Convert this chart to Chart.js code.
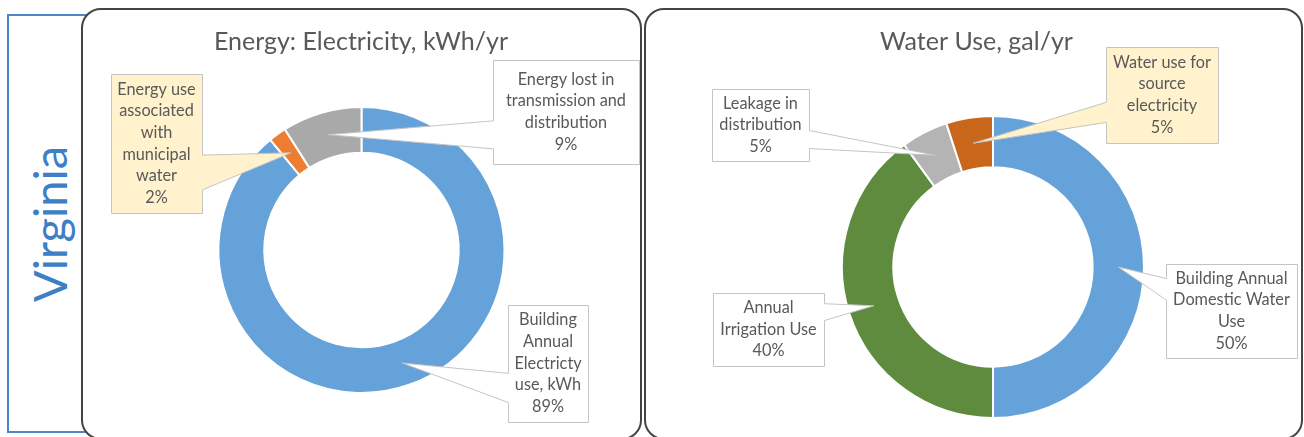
<!DOCTYPE html>
<html>
<head>
<meta charset="utf-8">
<script src="https://cdn.jsdelivr.net/npm/chart.js@4.4.0/dist/chart.umd.min.js"></script>
<style>
  body { margin: 0; width: 1304px; height: 437px; overflow: hidden; background: #fff; position: relative; font-family: Lato, "Open Sans", sans-serif; }
  #state { position: absolute; left: 7px; top: 14px; width: 110px; height: 419px; border: 2px solid #4a86c8; box-sizing: border-box; }
  #stateLabel { position: absolute; left: -51px; top: 200px; width: 200px; height: 48px; line-height: 48px; font-size: 47px; color: #3d80c6; text-align: center; transform: rotate(-90deg); }
  .panel { position: absolute; top: 8px; height: 432px; border: 2px solid #444; border-radius: 20px; background: #fff; box-sizing: border-box; }
  #p1 { left: 81px; width: 561px; }
  #p2 { left: 644px; width: 659px; }
  canvas { position: absolute; }
  #elec { left: 82px; top: 8px; }
  #water { left: 645px; top: 8px; }
</style>
</head>
<body>
<div id="state"></div>
<div id="stateLabel">Virginia</div>
<div class="panel" id="p1"></div>
<div class="panel" id="p2"></div>
<canvas id="elec" width="558" height="429"></canvas>
<canvas id="water" width="657" height="429"></canvas>

<script>
/* ───────── Data ───────── */
const elecTitle  = 'Energy: Electricity, kWh/yr';
const elecLabels = ['Building Annual Electricty use, kWh', 'Energy use associated with municipal water', 'Energy lost in transmission and distribution'];
const elecLines  = [['Building', 'Annual', 'Electricty', 'use, kWh'], ['Energy use', 'associated', 'with', 'municipal', 'water'], ['Energy lost in', 'transmission and', 'distribution']];
const elecValues = [89, 2, 9];
const elecColors = ['#65a2d9', '#ed7d31', '#a9a9a9'];

const waterTitle  = 'Water Use, gal/yr';
const waterLabels = ['Building Annual Domestic Water Use', 'Annual Irrigation Use', 'Leakage in distribution', 'Water use for source electricity'];
const waterLines  = [['Building Annual', 'Domestic Water', 'Use'], ['Annual', 'Irrigation Use'], ['Leakage in', 'distribution'], ['Water use for', 'source', 'electricity']];
const waterValues = [50, 40, 5, 5];
const waterColors = ['#65a2d9', '#5e8b3e', '#b4b4b4', '#c8661c'];

/* ───────── Callout layout (canvas coords) ───────── */
const elecBoxes = [
  { x: 426, y: 297, w: 80,  h: 117, side: 'left',  base: [0.58, 0.83], fill: '#fff' },
  { x: 29,  y: 66,  w: 91,  h: 139, side: 'right', base: [0.58, 0.83], fill: '#fff2cc' },
  { x: 411, y: 52,  w: 146, h: 104, side: 'left',  base: [0.58, 0.85], fill: '#fff' }
];
const waterBoxes = [
  { x: 521, y: 256, w: 131, h: 94, side: 'left',  base: [0.15, 0.38], fill: '#fff' },
  { x: 68,  y: 285, w: 111, h: 73, side: 'right', base: [0.14, 0.37], fill: '#fff' },
  { x: 67,  y: 81,  w: 97,  h: 72, side: 'right', base: [0.57, 0.82], fill: '#fff' },
  { x: 461, y: 39,  w: 112, h: 96, side: 'left',  base: [0.57, 0.78], fill: '#fff2cc' }
];

const FONT = 'Lato, "Open Sans", sans-serif';
const TEXT = '#595959';

/* ───────── Callout plugin ───────── */
const calloutPlugin = {
  id: 'callouts',
  afterDatasetsDraw(chart, args, opts) {
    const ctx = chart.ctx;
    const arcs = chart.getDatasetMeta(0).data;
    const vals = chart.data.datasets[0].data;
    const total = vals.reduce((s, v) => s + v, 0);

    // title
    ctx.save();
    ctx.fillStyle = TEXT;
    ctx.font = `${opts.titleSize}px ${FONT}`;
    ctx.textAlign = 'center';
    ctx.textBaseline = 'alphabetic';
    ctx.fillText(opts.title, chart.width / 2 + opts.titleShift, 42);

    arcs.forEach((arc, i) => {
      const b = opts.boxes[i];
      const a = (arc.startAngle + arc.endAngle) / 2;
      const rm = (arc.innerRadius + arc.outerRadius) / 2;
      const tip = { x: arc.x + Math.cos(a) * rm, y: arc.y + Math.sin(a) * rm };
      const x0 = b.x + 0.5, y0 = b.y + 0.5, x1 = b.x + b.w + 0.5, y1 = b.y + b.h + 0.5;

      ctx.beginPath();
      ctx.moveTo(x0, y0);
      ctx.lineTo(x1, y0);
      if (b.side === 'right') {
        ctx.lineTo(x1, y0 + b.base[0] * b.h);
        ctx.lineTo(tip.x, tip.y);
        ctx.lineTo(x1, y0 + b.base[1] * b.h);
      }
      ctx.lineTo(x1, y1);
      ctx.lineTo(x0, y1);
      if (b.side === 'left') {
        ctx.lineTo(x0, y0 + b.base[1] * b.h);
        ctx.lineTo(tip.x, tip.y);
        ctx.lineTo(x0, y0 + b.base[0] * b.h);
      }
      ctx.closePath();
      ctx.fillStyle = b.fill;
      ctx.fill();
      ctx.strokeStyle = '#c4c4c4';
      ctx.lineWidth = 1;
      ctx.stroke();

      const lines = opts.lines[i].concat([Math.round(vals[i] / total * 100) + '%']);
      const lh = 21.7;
      ctx.fillStyle = TEXT;
      ctx.font = `${opts.labelSize}px ${FONT}`;
      ctx.textBaseline = 'middle';
      const top = b.y + b.h / 2 - (lines.length - 1) * lh / 2;
      lines.forEach((t, k) => ctx.fillText(t, b.x + b.w / 2, top + k * lh));
    });
    ctx.restore();
  }
};

const makeDonut = (id, labels, values, colors, cutout, padding, pluginOpts) =>
  new Chart(document.getElementById(id), {
    type: 'doughnut',
    data: { labels, datasets: [{ data: values, backgroundColor: colors, borderColor: '#fff', borderWidth: 2 }] },
    options: {
      responsive: false,
      animation: false,
      cutout,
      layout: { padding },
      plugins: { legend: { display: false }, tooltip: { enabled: false }, callouts: pluginOpts }
    },
    plugins: [calloutPlugin]
  });

makeDonut('elec', elecLabels, elecValues, elecColors, '68%',
  { left: 135.5, right: 134.5, top: 98, bottom: 43 },
  { title: elecTitle, titleSize: 25, titleShift: 0, labelSize: 16.3, boxes: elecBoxes, lines: elecLines });

makeDonut('water', waterLabels, waterValues, waterColors, '66%',
  { left: 196, right: 157, top: 107, bottom: 18 },
  { title: waterTitle, titleSize: 25, titleShift: 3, labelSize: 16.3, boxes: waterBoxes, lines: waterLines });
</script>
</body>
</html>
